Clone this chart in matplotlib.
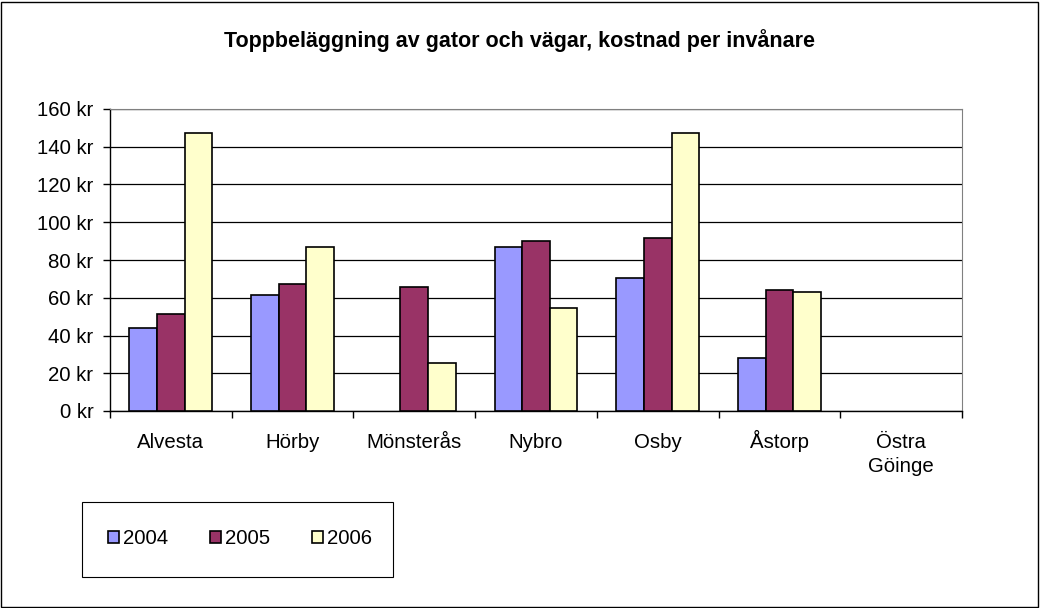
import numpy as np
import matplotlib
matplotlib.use('Agg')
import matplotlib.pyplot as plt
from matplotlib.patches import Rectangle
from matplotlib.transforms import blended_transform_factory

plt.rcParams['font.family'] = ['Liberation Sans', 'DejaVu Sans']

# Data ####################################################
kommuner = ['Alvesta', 'Hörby', 'Mönsterås', 'Nybro', 'Osby', 'Åstorp', 'Östra\nGöinge']
years = ['2004', '2005', '2006']
v2004 = [44, 61.5, np.nan, 86.7, 70.6, 28, np.nan]
v2005 = [51.5, 67.5, 65.5, 90, 91.8, 64, np.nan]
v2006 = [147.3, 86.7, 25.3, 54.7, 147.3, 63, np.nan]
colors = ['#9999FF', '#993366', '#FFFFCC']
###########################################################

fs = 14.7

fig = plt.figure(figsize=(10.4, 6.08), dpi=100)
ax = fig.add_axes([110/1040, 1-411/608, 852/1040, 302/608])

x = np.arange(len(kommuner))
w = 0.227
for i, (vals, c) in enumerate(zip([v2004, v2005, v2006], colors)):
    ax.bar(x + (i - 1) * w, vals, width=w, color=c, edgecolor='black',
           linewidth=1.2, label=years[i], zorder=3)

ax.set_xlim(-0.5, len(kommuner) - 0.5)
ax.set_ylim(0, 160)
ax.set_yticks(np.arange(0, 161, 20))
ax.set_yticklabels([f'{v} kr' for v in range(0, 161, 20)], fontsize=fs)
ax.yaxis.grid(True, color='black', linewidth=0.9, zorder=0)

# ticks at category boundaries, labels placed on a common baseline
ax.set_xticks(np.arange(-0.5, len(kommuner), 1.0))
ax.set_xticklabels([])
ax.tick_params(axis='x', length=5, width=1, direction='out')
ax.tick_params(axis='y', length=5, width=1, direction='out', pad=7)
tr = blended_transform_factory(ax.transData, fig.transFigure)
for xi, name in zip(x, kommuner):
    for j, line in enumerate(name.split('\n')):
        ax.text(xi, 1 - (448 + 23.5 * j)/608, line, transform=tr,
                ha='center', va='baseline', fontsize=fs)

for s in ['top', 'right']:
    ax.spines[s].set_color('#808080')
for s in ['left', 'bottom']:
    ax.spines[s].set_color('black')
    ax.spines[s].set_linewidth(1.0)

fig.text(0.5, 1 - 47.5/608, 'Toppbeläggning av gator och vägar, kostnad per invånare',
         ha='center', va='baseline', fontsize=15.5, fontweight='bold')

# legend box
fig.patches.append(Rectangle((82/1040, 1-577/608), 311/1040, 75/608,
                             transform=fig.transFigure, fill=False,
                             edgecolor='black', linewidth=0.8))
h, l = ax.get_legend_handles_labels()
fig.legend(h, l, loc='center', bbox_to_anchor=(240/1040, 1-539/608), ncol=3,
           frameon=False, fontsize=fs, handlelength=0.55, handleheight=0.55,
           handletextpad=0.2, columnspacing=2.05)

# outer border
fig.patches.append(Rectangle((1/1040, 1/608), 1037/1040, 605/608,
                             transform=fig.transFigure, fill=False,
                             edgecolor='black', linewidth=1))

fig.savefig('out.png', dpi=100)
